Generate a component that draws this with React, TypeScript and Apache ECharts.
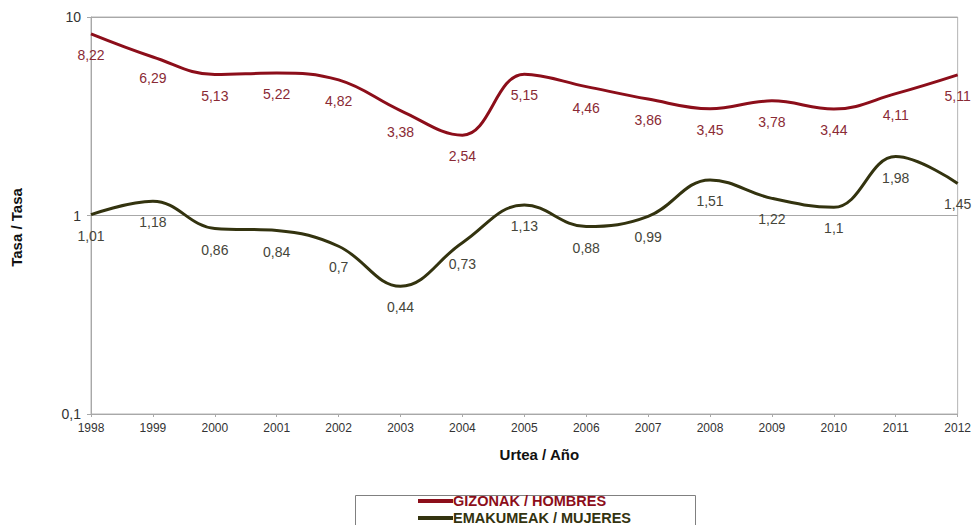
import React, { useEffect, useRef } from "react";
import * as echarts from "echarts";

const years = ["1998","1999","2000","2001","2002","2003","2004","2005","2006","2007","2008","2009","2010","2011","2012"];
const men = [8.22, 6.29, 5.13, 5.22, 4.82, 3.38, 2.54, 5.15, 4.46, 3.86, 3.45, 3.78, 3.44, 4.11, 5.11];
const women = [1.01, 1.18, 0.86, 0.84, 0.7, 0.44, 0.73, 1.13, 0.88, 0.99, 1.51, 1.22, 1.1, 1.98, 1.45];
const menName = "GIZONAK / HOMBRES";
const womenName = "EMAKUMEAK / MUJERES";

const FONT = "Liberation Sans, Arial, sans-serif";
const fmt = (v: number) => String(v).replace(".", ",");

export default function App() {
  const ref = useRef<HTMLDivElement>(null);
  useEffect(() => {
    if (!ref.current) return;
    const chart = echarts.init(ref.current, null, { renderer: "svg" });
    const menColor = "#8c0e1a";
    const womenColor = "#33330f";
    const legendItems = [
      { name: menName, color: menColor, y: 501 },
      { name: womenName, color: womenColor, y: 518 },
    ];
    chart.setOption({
      animation: false,
      textStyle: { fontFamily: FONT },
      grid: { left: 91, right: 16, top: 17, bottom: 111, show: true, borderColor: "#b4b4b4", borderWidth: 1 },
      graphic: [
        { type: "rect", shape: { x: 355.5, y: 495.5, width: 340, height: 40 }, style: { fill: "none", stroke: "#808080", lineWidth: 1 }, z: 1 },
        ...legendItems.flatMap((it) => [
          { type: "line", shape: { x1: 418, y1: it.y, x2: 453, y2: it.y }, style: { stroke: it.color, lineWidth: 4 }, z: 2 },
          { type: "text", x: 453, y: it.y, style: { text: it.name, fill: it.color, font: `bold 14.5px ${FONT}`, textVerticalAlign: "middle", verticalAlign: "middle" }, z: 2 },
        ]),
      ],
      xAxis: {
        type: "category",
        data: years,
        boundaryGap: false,
        name: "Urtea / Año",
        nameLocation: "middle",
        nameGap: 33,
        nameTextStyle: { fontFamily: FONT, fontWeight: "bold", fontSize: 15, color: "#111", padding: [0, 0, 0, 30] },
        axisLine: { lineStyle: { color: "#a8a8a8" } },
        axisTick: { show: true, length: 3, lineStyle: { color: "#a8a8a8" } },
        axisLabel: { color: "#333", fontSize: 12, margin: 8, fontFamily: FONT },
        splitLine: { show: false },
      },
      yAxis: {
        type: "log",
        logBase: 10,
        min: 0.1,
        max: 10,
        name: "Tasa / Tasa",
        nameLocation: "middle",
        nameGap: 67,
        nameTextStyle: { fontFamily: FONT, fontWeight: "bold", fontSize: 15, color: "#111", padding: [0, 24, 0, 0] },
        axisLine: { show: true, lineStyle: { color: "#a8a8a8" } },
        axisTick: { show: true, length: 4, lineStyle: { color: "#a8a8a8" } },
        axisLabel: { color: "#333", fontSize: 14, margin: 10, fontFamily: FONT, formatter: (v: number) => fmt(v) },
        splitLine: { show: true, lineStyle: { color: "#a8a8a8", width: 1 } },
      },
      series: [
        {
          name: menName,
          type: "line",
          data: men,
          smooth: 0.4,
          symbol: "circle",
          symbolSize: 0,
          lineStyle: { color: menColor, width: 3 },
          itemStyle: { color: menColor },
          label: { show: true, position: "bottom", distance: 14, color: "#8a2a35", fontSize: 14, fontFamily: FONT, formatter: (p: any) => fmt(p.value) },
        },
        {
          name: womenName,
          type: "line",
          data: women,
          smooth: 0.4,
          symbol: "circle",
          symbolSize: 0,
          lineStyle: { color: womenColor, width: 3 },
          itemStyle: { color: womenColor },
          label: { show: true, position: "bottom", distance: 14, color: "#45453a", fontSize: 14, fontFamily: FONT, formatter: (p: any) => fmt(p.value) },
        },
      ],
    });
    return () => chart.dispose();
  }, []);
  return <div ref={ref} style={{ width: 974, height: 525, position: "absolute", left: 0, top: 0 }} />;
}
